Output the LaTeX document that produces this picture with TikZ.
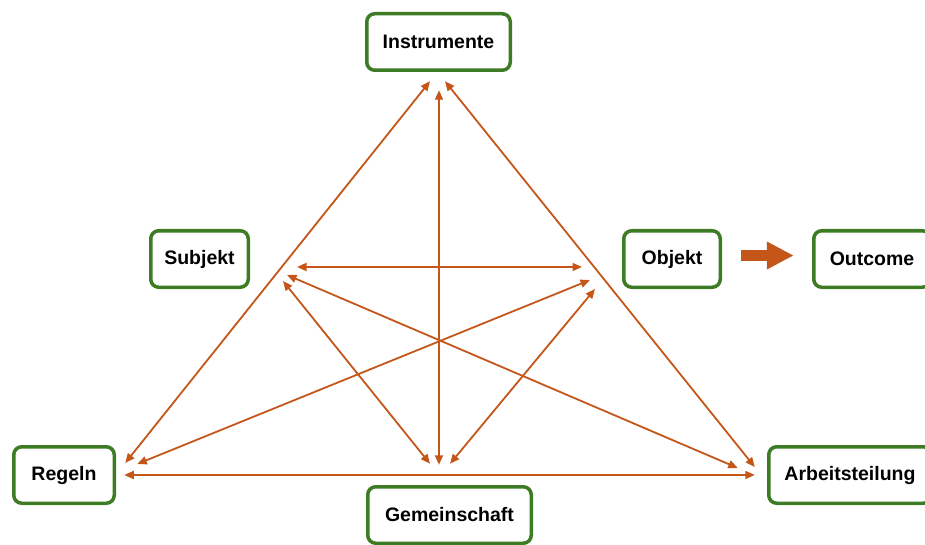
\documentclass[tikz,border=0pt]{standalone}
\usepackage{fontspec}
\setmainfont{Liberation Sans}
\usepackage{xcolor}
\usepackage{tikz}
\usetikzlibrary{arrows.meta,positioning,calc}
\definecolor{boxgreen}{HTML}{3D7B24}
\definecolor{linkorange}{HTML}{C4561A}

\begin{document}
\begin{tikzpicture}[
  x=1pt, y=-1pt,
  box/.style={rectangle, rounded corners=8pt, draw=boxgreen, line width=3.5pt, fill=white, align=center, minimum height=56.5pt, inner sep=0pt, outer sep=0pt, font=\bfseries\fontsize{19.5}{23}\selectfont},
  link/.style={{Triangle[length=9.5pt,width=8pt]}-{Triangle[length=9.5pt,width=8pt]}, line width=1.8pt, draw=linkorange},
  bigarrow/.style={-{Triangle[length=27pt,width=26pt]}, line width=11pt, draw=linkorange}
]
  \useasboundingbox (0,0) rectangle (925,545);

  \node[box, minimum width=143.5pt] (instr) at (438.5,42) {Instrumente};
  \node[box, minimum width=97.5pt] (subj) at (199.5,259) {Subjekt};
  \node[box, minimum width=96.5pt] (obj) at (672,259) {Objekt};
  \node[box, minimum width=116.5pt] (outcome) at (872,259) {Outcome};
  \node[box, minimum width=100.5pt] (regeln) at (64,475) {Regeln};
  \node[box, minimum width=163.5pt] (gemein) at (449.5,515) {Gemeinschaft};
  \node[box, minimum width=162.5pt] (arbeit) at (850,475) {Arbeitsteilung};

  \coordinate (s1) at (297,267);
  \coordinate (s2) at (287,275);
  \coordinate (s3) at (283,281);
  \coordinate (o1) at (582,267);
  \coordinate (o2) at (590,280);
  \coordinate (o3) at (595,289);

  \draw[link] ([shift={(-8.5,11)}]instr.south) -- ([shift={(11,-12)}]regeln.east);
  \draw[link] ([shift={(6.5,11)}]instr.south) -- ([shift={(-14,-8)}]arbeit.west);
  \draw[link] ([shift={(0.5,20)}]instr.south) -- ([shift={(-10.5,-22)}]gemein.north);
  \draw[link] ([xshift=10pt]regeln.east) -- ([xshift=-14pt]arbeit.west);
  \draw[link] (s1) -- (o1);
  \draw[link] (s2) -- ([shift={(-31,-7)}]arbeit.west);
  \draw[link] (o2) -- ([shift={(23,-11)}]regeln.east);
  \draw[link] (s3) -- ([shift={(-19.5,-23)}]gemein.north);
  \draw[link] (o3) -- ([shift={(0.5,-23)}]gemein.north);

  \draw[bigarrow] ([shift={(21,-3.5)}]obj.east) -- ([shift={(-20,-3.5)}]outcome.west);
\end{tikzpicture}
\end{document}
